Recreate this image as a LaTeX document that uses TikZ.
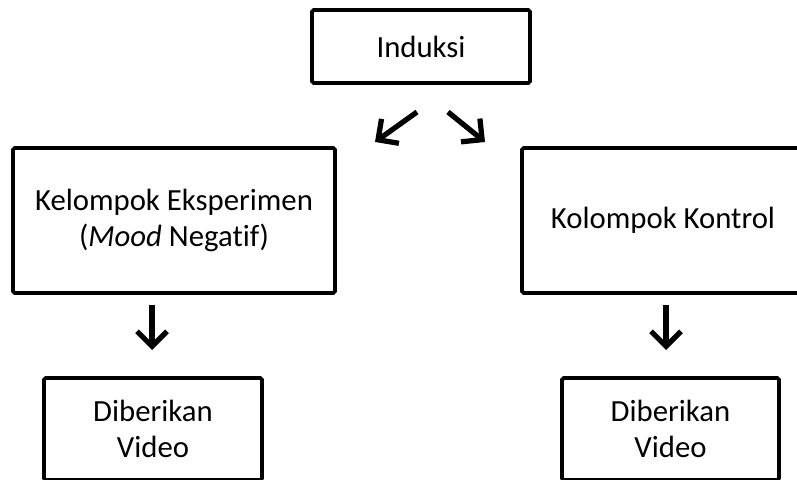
\documentclass[tikz,border=0pt]{standalone}
\usepackage{fontspec}
\setmainfont[Ligatures=NoCommon]{Carlito}
\usetikzlibrary{arrows.meta, positioning, calc}

\tikzset{
	kotak/.style={rectangle,draw,line width=2.2pt,rounded corners=1pt,align=center,font=\fontsize{17.5}{20.5}\selectfont},
	panah/.style={line width=3pt,-{Straight Barb[length=0.3cm,width=0.6cm,line width=3pt]}}
}

\begin{document}
\begin{tikzpicture}
		\useasboundingbox (0,0) rectangle (15.94,9.58);
		\clip (0,0) rectangle (15.94,9.58);
		\node(induksi) at (8.42,8.65)[kotak,minimum width=4.36cm,minimum height=1.46cm]{Induksi};
		\node(eksp) at (3.48,5.17)[kotak,minimum width=6.44cm,minimum height=2.9cm]{Kelompok Eksperimen\\(\textit{Mood} Negatif)};
		\node(kontrol) at (13.26,5.17)[kotak,minimum width=5.64cm,minimum height=2.9cm]{Kolompok Kontrol};
		\node(video1) at (3.06,1.0)[kotak,minimum width=4.36cm,minimum height=2.04cm]{Diberikan\\Video};
		\node(video2) at (13.41,1.0)[kotak,minimum width=4.34cm,minimum height=2.04cm]{Diberikan\\Video};
		
		\coordinate(a1) at (8.34,7.34);
		\coordinate(b1) at (7.5,6.74);
		\coordinate(a2) at (8.96,7.34);
		\coordinate(b2) at (9.7,6.74);
		\coordinate(a3) at (3.04,3.48);
		\coordinate(b3) at (3.04,2.58);
		\coordinate(a4) at (13.32,3.48);
		\coordinate(b4) at (13.32,2.58);
		
		\draw[panah] (a1) to (b1);
		\draw[panah] (a2) to (b2);
		\draw[panah] (a3) to (b3);
		\draw[panah] (a4) to (b4);
		
	\end{tikzpicture}
\end{document}
